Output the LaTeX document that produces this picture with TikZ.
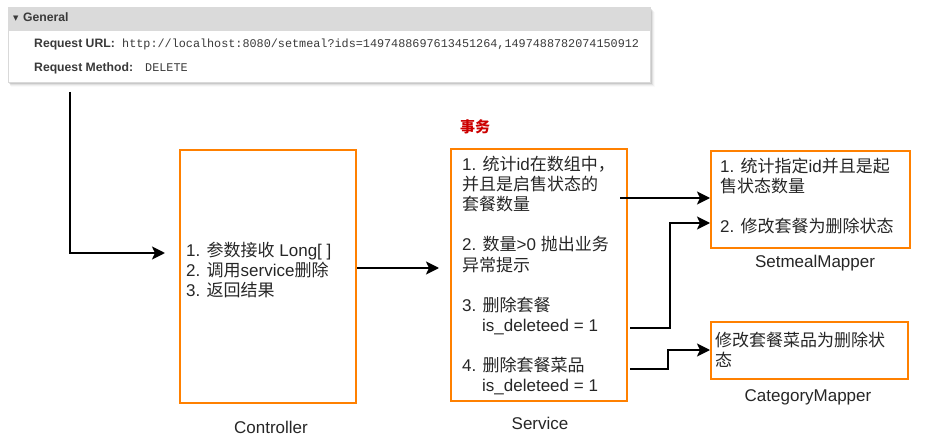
\documentclass[tikz,border=0pt]{standalone}
\usepackage{fontspec}
\setmainfont{Liberation Sans}
\setmonofont{Liberation Mono}
\newfontfamily\cjkf{Noto Sans CJK SC}
\newfontfamily\symf{DejaVu Sans}
\usetikzlibrary{arrows.meta}
\newcommand\zh[1]{{\cjkf #1}}
\definecolor{boxorange}{HTML}{FF8000}
\definecolor{hdrgray}{HTML}{DADADA}
\definecolor{redtxt}{HTML}{CC0000}
\definecolor{devtxt}{HTML}{3A3A3A}
\begin{document}
\begin{tikzpicture}[x=1pt,y=-1pt,
 box/.style={draw=boxorange, line width=2pt, inner sep=0pt, anchor=north west},
 txt/.style={inner sep=0pt, anchor=base west, font=\fontsize{17}{20}\selectfont, text=black!85},
 lbl/.style={inner sep=0pt, font=\fontsize{17}{20}\selectfont, text=black!85},
 arr/.style={-{Stealth[length=13pt,width=13pt,inset=3pt]}, line width=2pt},
 dev/.style={inner sep=0pt, anchor=base west, text=devtxt},
 devb/.style={dev, font=\bfseries\fontsize{12.2}{12}\selectfont},
 devm/.style={dev, font=\ttfamily\fontsize{11.8}{12}\selectfont}
]
\useasboundingbox (0,0) rectangle (933,446);
% request panel with shadow
\foreach \i/\o in {1/0.14,2/0.10,3/0.07,4/0.04,5/0.02}{
  \fill[black, opacity=\o] (8+0.5*\i, 7+\i) rectangle (650+\i, 82+\i);
}
\node[draw=black!15, fill=white, minimum width=642pt, minimum height=75pt, anchor=north west, inner sep=0pt] (req) at (8,7) {};
\fill[hdrgray] (8,7) rectangle (650,31);
\node[dev, font=\symf\fontsize{7}{7}\selectfont] (tri) at (13,21) {▼};
\node[devb] (gen) at (23,22) {General};
\node[devb] (url) at (34,48) {Request URL:};
\node[devm] (urlv) at (122,48) {http://localhost:8080/setmeal?ids=1497488697613451264,1497488782074150912};
\node[devb] (meth) at (34,72) {Request Method:};
\node[devm] (methv) at (145,72) {DELETE};

% boxes
\node[box, minimum width=176pt, minimum height=253pt] (ctl) at (179,149) {};
\node[box, minimum width=176pt, minimum height=252pt] (svc) at (450,148) {};
\node[box, minimum width=199pt, minimum height=97pt] (sm) at (710,150) {};
\node[box, minimum width=197pt, minimum height=57pt] (cm) at (710,321) {};

% controller text
\node[txt] (c1) at (186,256) {1. \zh{参数接收} Long[ ]};
\node[txt] (c2) at (186,276) {2. \zh{调用}service\zh{删除}};
\node[txt] (c3) at (186,296) {3. \zh{返回结果}};
\node[lbl] (ctlname) at (271,427) {Controller};

% service text
\node[inner sep=0pt, text=redtxt, font=\cjkf\bfseries\fontsize{15}{15}\selectfont] (tx) at (475,127) {事务};
\node[txt] (s1) at (462,171) {1. \zh{统计}id\zh{在数组中，}};
\node[txt] (s2) at (462,191) {\zh{并且是启售状态的}};
\node[txt] (s3) at (462,211) {\zh{套餐数量}};
\node[txt] (s4) at (462,251) {2. \zh{数量}>0 \zh{抛出业务}};
\node[txt] (s5) at (462,271) {\zh{异常提示}};
\node[txt] (s6) at (462,311) {3. \zh{删除套餐}};
\node[txt] (s7) at (482,331) {is\_deleteed = 1};
\node[txt] (s8) at (462,371) {4. \zh{删除套餐菜品}};
\node[txt] (s9) at (482,391) {is\_deleteed = 1};
\node[lbl] (svcname) at (540,423) {Service};

% setmeal mapper text
\node[txt] (m1) at (720,173) {1. \zh{统计指定}id\zh{并且是起}};
\node[txt] (m2) at (720,193) {\zh{售状态数量}};
\node[txt] (m3) at (720,233) {2. \zh{修改套餐为删除状态}};
\node[lbl] (smname) at (815,263) {SetmealMapper};

% category mapper text
\node[txt] (k1) at (715,346) {\zh{修改套餐菜品为删除状}};
\node[txt] (k2) at (715,366) {\zh{态}};
\node[lbl] (cmname) at (808,397) {CategoryMapper};

% connectors
\coordinate (a0) at (70,92);
\coordinate (a1) at (165,253);
\draw[arr] (a0) |- (a1);
\coordinate (b1) at (439,268);
\draw[arr] (ctl.east |- b1) -- (b1);
\coordinate (c0) at (620,198);
\draw[arr] (c0) -- (sm.west |- c0);
\coordinate (d0) at (630,328);
\coordinate (d1) at (670,223);
\draw[arr] (d0) -| (d1) -- (sm.west |- d1);
\coordinate (e0) at (630,369);
\coordinate (e1) at (668,350);
\draw[arr] (e0) -| (e1) -- (cm.west |- e1);
\end{tikzpicture}
\end{document}
